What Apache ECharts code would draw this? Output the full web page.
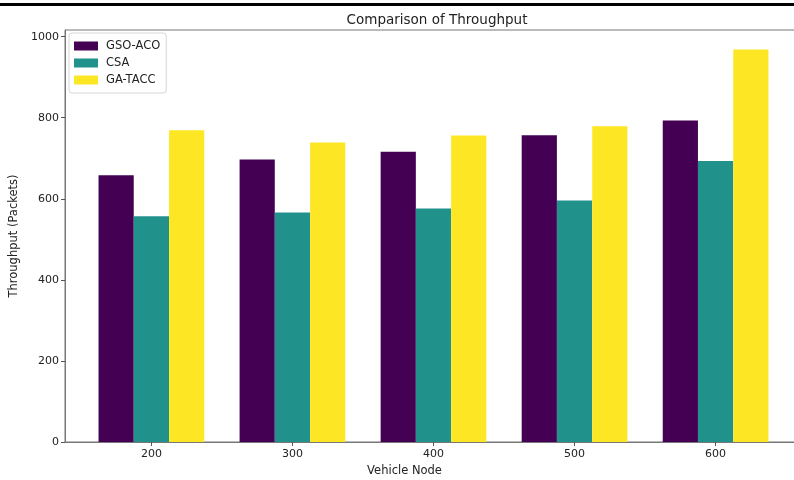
<!DOCTYPE html>
<html>
<head>
<meta charset="utf-8">
<script src="https://cdn.jsdelivr.net/npm/echarts@6/dist/echarts.min.js"></script>
<style>html,body{margin:0;padding:0;background:#fff}#c{width:794px;height:480px}</style>
</head>
<body>
<div id="c"></div>
<script>
const categories = ['200', '300', '400', '500', '600'];
const seriesNames = ['GSO-ACO', 'CSA', 'GA-TACC'];
const gsoAco = [658, 697, 716, 757, 793];
const csa = [557, 566, 576, 596, 693];
const gaTacc = [769, 739, 756, 779, 968];
const yTicks = [0, 200, 400, 600, 800, 1000];
const colors = ['#440154', '#21918c', '#fde725'];

const allValues = [gsoAco, csa, gaTacc];
const barW = 0.25;
const offsets = [-barW, 0, barW];
const tickIdx = categories.map((c, i) => i);
const yMax = Math.max(...gsoAco, ...csa, ...gaTacc) * 1.05;

const chart = echarts.init(document.getElementById('c'), null, {renderer: 'canvas'});
const font = 'DejaVu Sans';
chart.setOption({
  animation: false,
  backgroundColor: '#fff',
  title: {
    text: 'Comparison of Throughput',
    left: 432, top: 8, textAlign: 'center',
    textStyle: {fontFamily: font, fontSize: 13.5, fontWeight: 'normal', color: '#222'}
  },
  legend: {
    orient: 'vertical', left: 69, top: 33,
    itemWidth: 24, itemHeight: 9, itemGap: 5, icon: 'rect',
    padding: [7, 6, 7, 5],
    borderColor: '#d6d6d6', borderWidth: 1, borderRadius: 3,
    backgroundColor: 'rgba(255,255,255,0.85)',
    textStyle: {fontFamily: font, fontSize: 11.5, color: '#222', padding: [0, 0, 0, 3]},
    data: seriesNames
  },
  grid: {
    left: 65, top: 30, width: 737, height: 412,
    outerBoundsMode: 'none', containLabel: false,
    show: true, borderColor: '#777', borderWidth: 1, backgroundColor: 'transparent'
  },
  xAxis: {
    type: 'value', min: -0.6125, max: 4.6125,
    name: 'Vehicle Node', nameLocation: 'middle', nameGap: 23,
    nameTextStyle: {fontFamily: font, fontSize: 11.5, color: '#222', padding: [0, 58, 0, 0]},
    axisLine: {show: true, onZero: false, lineStyle: {color: '#777', width: 1}},
    axisTick: {show: true, length: 4, lineStyle: {color: '#555'}, customValues: tickIdx},
    axisLabel: {
      customValues: tickIdx,
      formatter: v => categories[Math.round(v)],
      fontFamily: font, fontSize: 11, color: '#222', margin: 7
    },
    splitLine: {show: false}
  },
  yAxis: {
    type: 'value', min: 0, max: yMax,
    name: 'Throughput (Packets)', nameLocation: 'middle', nameGap: 39,
    nameTextStyle: {fontFamily: font, fontSize: 11.5, color: '#222'},
    axisLine: {show: true, onZero: false, lineStyle: {color: '#777', width: 1}},
    axisTick: {show: true, length: 4, lineStyle: {color: '#555'}, customValues: yTicks},
    axisLabel: {customValues: yTicks, formatter: v => String(v), fontFamily: font, fontSize: 11, color: '#222', margin: 6},
    splitLine: {show: false}
  },
  graphic: [{
    type: 'rect', shape: {x: 0, y: 3, width: 794, height: 3},
    style: {fill: '#000'}, silent: true
  }],
  series: seriesNames.map((name, s) => ({
    name: name, type: 'bar',
    barWidth: 35.2, barGap: '-100%',
    itemStyle: {color: colors[s]},
    data: allValues[s].map((v, i) => [i + offsets[s], v])
  }))
});
</script>
</body>
</html>
